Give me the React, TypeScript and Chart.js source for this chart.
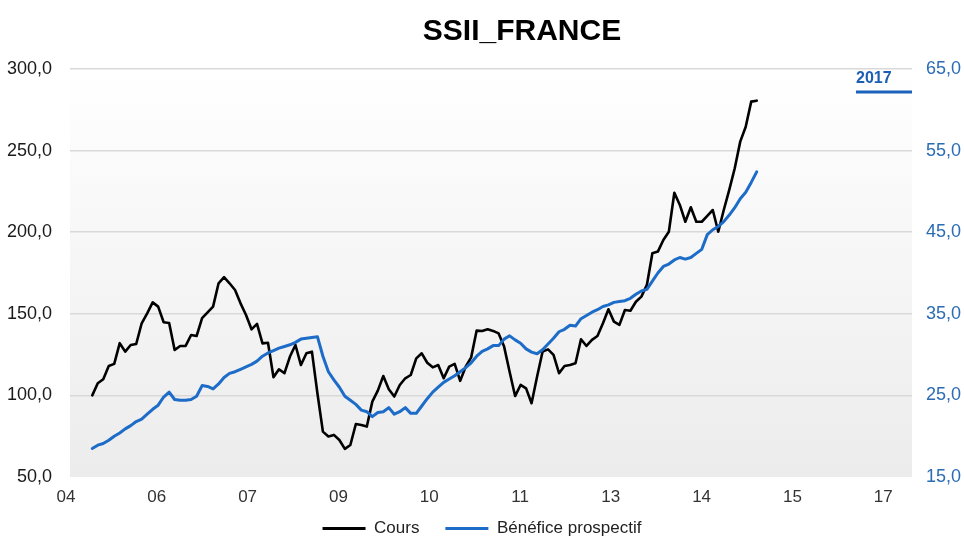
import React, { useEffect, useRef } from 'react';
import { Chart, registerables } from 'chart.js';

Chart.register(...registerables);

const FONT = 'Liberation Sans, Arial, Helvetica, sans-serif';
const TITLE = 'SSII_FRANCE';
const BADGE = '2017';
const SERIES_NAMES = ['Cours', 'Bénéfice prospectif'];

// Monthly data, first point = April 2005
const START_YEAR = 2005;
const START_MONTH = 3; // 0 = January

const cours = [
  100, 107.4, 109.9, 118, 119.3, 132, 126.8, 130.9, 131.5, 144.2,
  150.3, 157, 154.4, 144.8, 144.4, 127.8, 130.3, 130.3, 137, 136.4,
  147.3, 150.9, 154.4, 168.7, 172.4, 168.7, 164.6, 156.4, 149.3, 140.5,
  143.8, 131.9, 132.3, 111.1, 116, 113.6, 123.8, 130.9, 118.6, 125.8,
  126.8, 101.3, 77.8, 74.8, 75.8, 72.7, 67.2, 69.6, 82.5, 81.9,
  80.9, 96.2, 102.9, 111.9, 103.8, 99.3, 106.4, 110.5, 112.5, 122.7,
  125.8, 120, 117.2, 118.6, 110.5, 117.6, 119.3, 108.9, 117.6, 123.3,
  139.7, 139.5, 140.5, 139.5, 138, 129.9, 114.5, 99.6, 106.4, 104.3,
  95.2, 111.4, 126.8, 128.2, 124.8, 113.6, 118, 118.6, 119.7, 134.4,
  130.3, 134, 136.4, 144.2, 152.8, 145.2, 143.2, 152.3, 151.9, 157.4,
  160.5, 167.7, 187.1, 188.1, 195.2, 200.3, 224.2, 216.7, 206.4, 215.3,
  206.4, 206.4, 210, 213.6, 200.3, 213.6, 225.9, 239.2, 255.5, 264.6,
  280, 280.6,
];

const benefice = [
  18.5, 18.9, 19.1, 19.5, 20.0, 20.4, 20.9, 21.3, 21.8, 22.1,
  22.7, 23.3, 23.8, 24.8, 25.4, 24.5, 24.4, 24.4, 24.5, 24.9,
  26.2, 26.1, 25.8, 26.4, 27.2, 27.7, 27.9, 28.2, 28.5, 28.8,
  29.2, 29.8, 30.2, 30.5, 30.8, 31.0, 31.2, 31.5, 31.9, 32.0,
  32.1, 32.2, 29.8, 27.9, 26.9, 26.0, 24.9, 24.4, 23.9, 23.2,
  23.0, 22.4, 22.9, 23.0, 23.5, 22.7, 23.0, 23.5, 22.8, 22.8,
  23.7, 24.6, 25.4, 26.0, 26.6, 27.0, 27.4, 27.9, 28.4, 29.0,
  29.8, 30.4, 30.7, 31.1, 31.1, 31.9, 32.3, 31.8, 31.4, 30.7,
  30.3, 30.1, 30.6, 31.3, 32.0, 32.8, 33.1, 33.6, 33.5, 34.4,
  34.8, 35.2, 35.5, 35.9, 36.1, 36.4, 36.5, 36.6, 36.9, 37.4,
  37.8, 38.0, 39.0, 40.0, 40.8, 41.1, 41.6, 41.9, 41.7, 41.9,
  42.4, 42.9, 44.7, 45.3, 45.7, 46.3, 47.1, 48.0, 49.1, 49.9,
  51.1, 52.4,
];

// x axis (decimal years)
const xTickLabels = ['04', '06', '07', '09', '10', '11', '13', '14', '15', '17'];
const X_MIN = 2004.912;
const X_STEP = 1.378;
const X_MAX = 2017.69;

// y axes
const LEFT_MIN = 50, LEFT_MAX = 300, LEFT_STEP = 50;
const RIGHT_MIN = 15, RIGHT_MAX = 65, RIGHT_STEP = 10;

const BLACK = '#000000';
const BLUE = '#1c6cc8';

const toX = (i: number) => START_YEAR + (START_MONTH + i) / 12;
const fmt = (v: number) => Number(v).toFixed(1).replace('.', ',');

const LEGEND_HEIGHT = 53;
const LEGEND_SHIFT = 13;

const decorPlugin = {
  id: 'decor',
  beforeLayout(chart: any) {
    const lg = chart.legend;
    if (lg && !lg.__patched) {
      const orig = lg.fit.bind(lg);
      lg.fit = function () {
        orig();
        this.height = LEGEND_HEIGHT;
      };
      lg.__patched = true;
    }
  },
  afterLayout(chart: any) {
    const lg = chart.legend;
    if (lg) {
      lg.top -= LEGEND_SHIFT;
      lg.bottom -= LEGEND_SHIFT;
    }
  },
  beforeDraw(chart: any) {
    const { ctx, chartArea: a, width, height } = chart;
    ctx.save();
    ctx.fillStyle = '#ffffff';
    ctx.fillRect(0, 0, width, height);
    const g = ctx.createLinearGradient(0, a.top, 0, a.bottom);
    g.addColorStop(0, '#ffffff');
    g.addColorStop(1, '#ececec');
    ctx.fillStyle = g;
    ctx.fillRect(a.left, a.top, a.right - a.left, a.bottom - a.top);
    ctx.restore();
  },
  afterDraw(chart: any) {
    const { ctx, chartArea: a } = chart;
    ctx.save();
    ctx.fillStyle = '#000';
    ctx.font = `bold 30px ${FONT}`;
    ctx.textAlign = 'center';
    ctx.textBaseline = 'middle';
    ctx.fillText(TITLE, 522, 32);

    ctx.fillStyle = '#1a5fb4';
    ctx.font = `bold 16px ${FONT}`;
    ctx.textAlign = 'left';
    ctx.textBaseline = 'alphabetic';
    ctx.fillText(BADGE, a.right - 56, 83);
    ctx.strokeStyle = '#1a62bb';
    ctx.lineWidth = 3;
    ctx.beginPath();
    ctx.moveTo(a.right - 56, 92);
    ctx.lineTo(a.right, 92);
    ctx.stroke();
    ctx.restore();
  },
};

export default function App() {
  const ref = useRef<HTMLCanvasElement>(null);

  useEffect(() => {
    if (!ref.current) return;
    const chart = new Chart(ref.current, {
      type: 'line',
      data: {
        datasets: [
          {
            label: SERIES_NAMES[0],
            data: cours.map((v, i) => ({ x: toX(i), y: v })),
            borderColor: BLACK,
            backgroundColor: BLACK,
            borderWidth: 2.6,
            pointRadius: 0,
            tension: 0,
            yAxisID: 'y',
            order: 1,
            borderJoinStyle: 'round',
            borderCapStyle: 'round',
          },
          {
            label: SERIES_NAMES[1],
            data: benefice.map((v, i) => ({ x: toX(i), y: v })),
            borderColor: BLUE,
            backgroundColor: BLUE,
            borderWidth: 3,
            pointRadius: 0,
            tension: 0,
            yAxisID: 'y1',
            order: 0,
            borderJoinStyle: 'round',
            borderCapStyle: 'round',
          },
        ],
      },
      options: {
        responsive: false,
        animation: false,
        layout: { padding: { top: 69, left: 0, right: 0, bottom: 0 } },
        plugins: {
          title: { display: false },
          tooltip: { enabled: false },
          legend: {
            position: 'bottom',
            labels: {
              boxWidth: 43,
              boxHeight: 3,
              padding: 26,
              color: '#222',
              font: { family: FONT, size: 17 },
              sort: (a: any, b: any) => a.datasetIndex - b.datasetIndex,
              generateLabels: (c: any) =>
                Chart.defaults.plugins.legend.labels
                  .generateLabels(c)
                  .map((it: any) => ({ ...it, lineWidth: 0 })),
            },
          },
        },
        scales: {
          x: {
            type: 'linear',
            min: X_MIN,
            max: X_MAX,
            grid: { display: false, drawTicks: false },
            border: { display: false },
            afterBuildTicks: (scale: any) => {
              scale.ticks = xTickLabels.map((_, k) => ({ value: X_MIN + k * X_STEP }));
            },
            afterFit: (scale: any) => {
              scale.height = 30;
            },
            ticks: {
              autoSkip: false,
              maxRotation: 0,
              minRotation: 0,
              padding: 10,
              labelOffset: -4,
              color: '#333',
              font: { family: FONT, size: 17 },
              callback: (_v: any, idx: number) => xTickLabels[idx],
            },
          },
          y: {
            position: 'left',
            min: LEFT_MIN,
            max: LEFT_MAX,
            afterFit: (scale: any) => {
              scale.width = 70;
            },
            grid: {
              drawTicks: false,
              lineWidth: 1.5,
              color: (c: any) => (c.tick && c.tick.value === LEFT_MIN ? 'rgba(0,0,0,0)' : '#d9d9d9'),
            },
            border: { display: false },
            ticks: {
              stepSize: LEFT_STEP,
              padding: 18,
              color: '#1a1a1a',
              font: { family: FONT, size: 18 },
              callback: (v: any) => fmt(v),
            },
          },
          y1: {
            position: 'right',
            min: RIGHT_MIN,
            max: RIGHT_MAX,
            afterFit: (scale: any) => {
              scale.width = 52;
            },
            grid: { display: false, drawTicks: false },
            border: { display: false },
            ticks: {
              stepSize: RIGHT_STEP,
              padding: 14,
              color: '#2b6cb3',
              font: { family: FONT, size: 18 },
              callback: (v: any) => fmt(v),
            },
          },
        },
      },
      plugins: [decorPlugin],
    } as any);
    return () => chart.destroy();
  }, []);

  return (
    <div style={{ position: 'fixed', left: 0, top: 0, width: 964, height: 560, background: '#fff' }}>
      <canvas ref={ref} width={964} height={560} style={{ display: 'block' }} />
    </div>
  );
}
